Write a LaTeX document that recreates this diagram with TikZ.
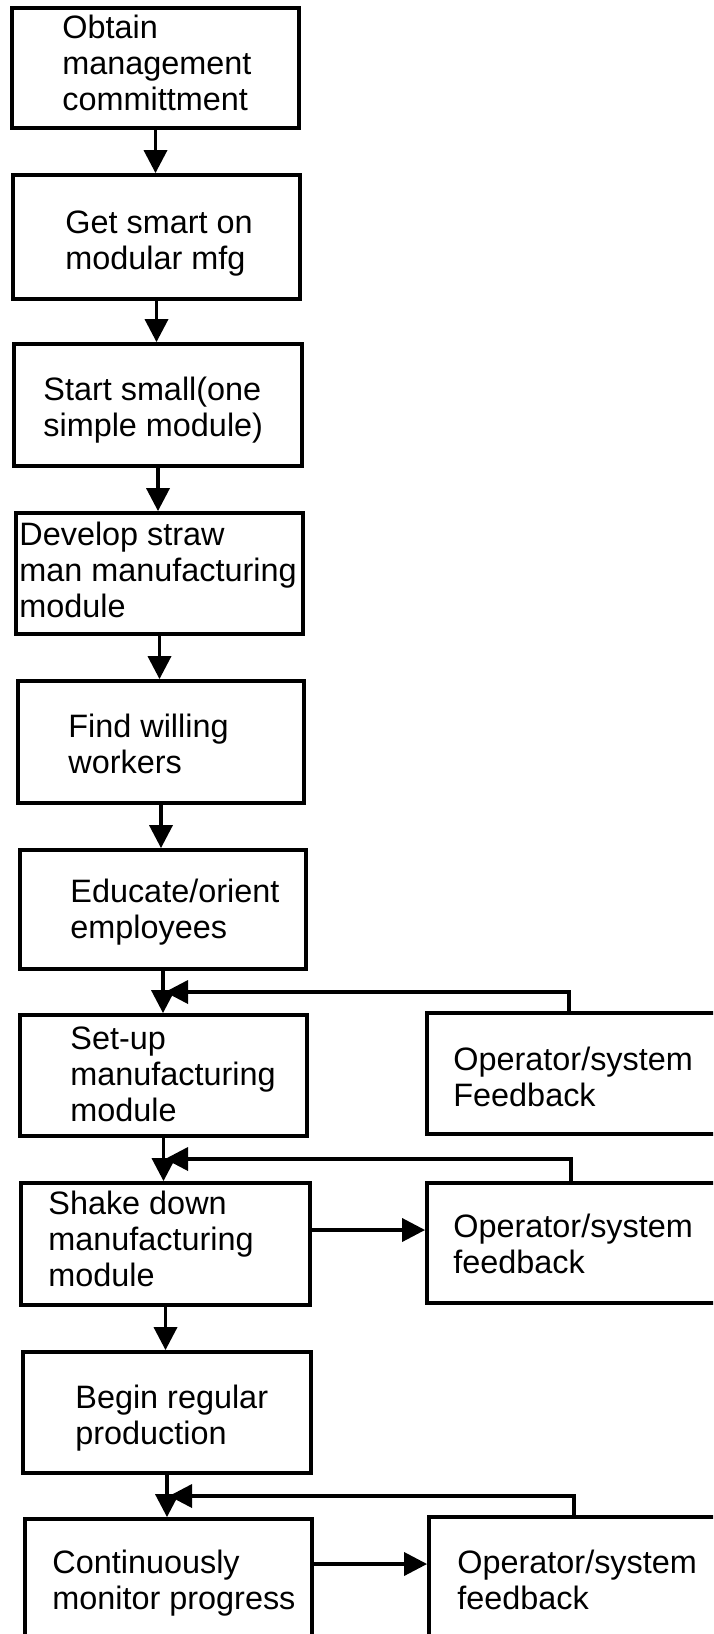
\documentclass[tikz,border=0pt]{standalone}
\usepackage{fontspec}
\setmainfont{Liberation Sans}
\usetikzlibrary{arrows.meta,fit}
\newcommand{\mylines}[1]{\begin{tabular}[t]{@{}l@{}}#1\end{tabular}}
\begin{document}
\begin{tikzpicture}[x=0.5pt,y=-0.5pt,
  box/.style={draw,line width=1.9pt,inner sep=0pt},
  txt/.style={anchor=base west,inner sep=0pt,font=\fontsize{16.2}{18}\selectfont},
  arr/.style={line width=1.8pt,-{Triangle[width=11.5pt,length=11.5pt]}}]
\useasboundingbox (0,0) rectangle (713,1634);
\clip (0,0) rectangle (713,1634);
% main boxes
\node[box,fit={(12,8) (299,128)}] (b1) {};
\node[box,fit={(13,175) (300,299)}] (b2) {};
\node[box,fit={(14,344) (302,466)}] (b3) {};
\node[box,fit={(16,513) (303,634)}] (b4) {};
\node[box,fit={(18,681) (304,803)}] (b5) {};
\node[box,fit={(20,850) (306,969)}] (b6) {};
\node[box,fit={(20,1015) (307,1136)}] (b7) {};
\node[box,fit={(21,1183) (310,1305)}] (b8) {};
\node[box,fit={(23,1352) (311,1473)}] (b9) {};
\node[box,fit={(25,1519) (312,1660)}] (b10) {};
% feedback boxes
\node[box,fit={(427,1013) (740,1134)}] (f1) {};
\node[box,fit={(427,1183) (740,1303)}] (f2) {};
\node[box,fit={(429,1517) (740,1660)}] (f3) {};
% texts
\node[txt] (t1) at (62,38) {\mylines{Obtain\\management\\committment}};
\node[txt] (t2) at (65,233) {\mylines{Get smart on\\modular mfg}};
\node[txt] (t3) at (43,400) {\mylines{Start small(one\\simple module)}};
\node[txt] (t4) at (19,545) {\mylines{Develop straw\\man manufacturing\\module}};
\node[txt] (t5) at (68,737) {\mylines{Find willing\\workers}};
\node[txt] (t6) at (70,902) {\mylines{Educate/orient\\employees}};
\node[txt] (t7) at (70,1049) {\mylines{Set-up\\manufacturing\\module}};
\node[txt] (t8) at (48,1214) {\mylines{Shake down\\manufacturing\\module}};
\node[txt] (t9) at (75,1408) {\mylines{Begin regular\\production}};
\node[txt] (t10) at (52,1573) {\mylines{Continuously\\monitor progress}};
\node[txt] (tf1) at (453,1070) {\mylines{Operator/system\\Feedback}};
\node[txt] (tf2) at (453,1237) {\mylines{Operator/system\\feedback}};
\node[txt] (tf3) at (457,1573) {\mylines{Operator/system\\feedback}};
% junctions of the feedback returns
\coordinate (j1) at (165,992);
\coordinate (j2) at (165,1159);
\coordinate (j3) at (169,1496);
% main flow
\draw[arr] (b1.south) -- (b1.south |- b2.north);
\draw[arr] (b2.south) -- (b2.south |- b3.north);
\draw[arr] (b3.south) -- (b3.south |- b4.north);
\draw[arr] (b4.south) -- (b4.south |- b5.north);
\draw[arr] (b5.south) -- (b5.south |- b6.north);
\draw[arr] (b6.south) -- (b6.south |- b7.north);
\draw[arr] (b7.south) -- (b7.south |- b8.north);
\draw[arr] (b8.south) -- (b8.south |- b9.north);
\draw[arr] (b9.south) -- (b9.south |- b10.north);
% to feedback
\draw[arr] ([yshift=7pt]b8.east) -- ([yshift=7pt]b8.east -| f2.west);
\draw[arr] ([yshift=12.75pt]b10.east) -- ([yshift=12.75pt]b10.east -| f3.west);
% feedback returns
\draw[arr] ([xshift=72pt]f1.north west) |- (j1);
\draw[arr] ([xshift=73pt]f2.north west) |- (j2);
\draw[arr] ([xshift=73.5pt]f3.north west) |- (j3);
\end{tikzpicture}
\end{document}
